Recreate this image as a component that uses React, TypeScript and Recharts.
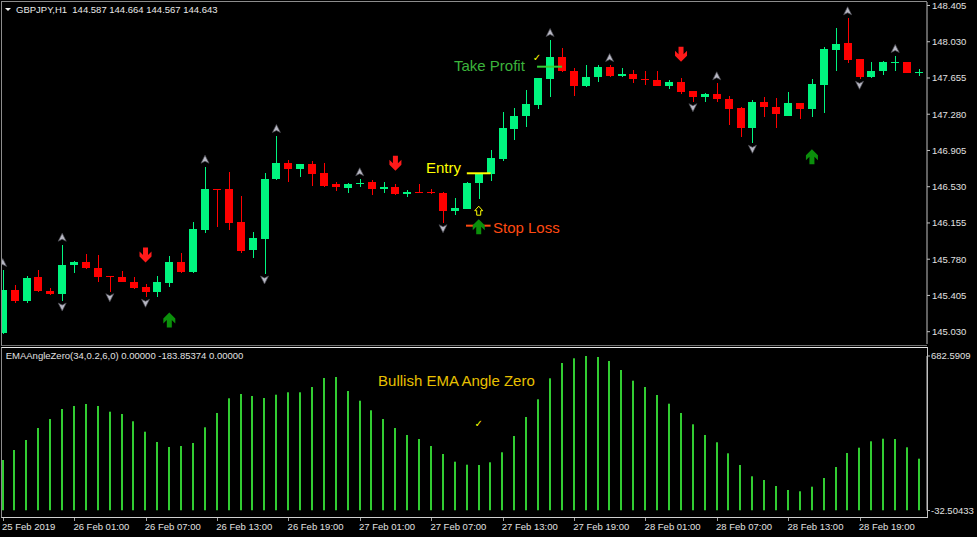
import React from 'react';
import { ComposedChart, Bar, Scatter, XAxis, YAxis, ReferenceLine } from 'recharts';

// ---------- data ----------
const OPEN = [
  145.020, 145.461, 145.351, 145.593, 145.454, 145.420, 145.720, 145.751, 145.692, 145.606,
  145.593, 145.547, 145.492, 145.441, 145.537, 145.751, 145.645, 146.082, 146.503, 146.503,
  146.168, 145.875, 145.989, 146.607, 146.778, 146.710, 146.765, 146.669, 146.558, 146.520,
  146.558, 146.579, 146.509, 146.527, 146.452, 146.475, 146.472, 146.468, 146.282, 146.303,
  146.565, 146.658, 146.820, 147.127, 147.265, 147.379, 147.648, 147.875, 147.730, 147.572,
  147.668, 147.766, 147.672, 147.696, 147.641, 147.634, 147.572, 147.617, 147.520, 147.458,
  147.489, 147.434, 147.348, 147.141, 147.410, 147.355, 147.265, 147.393, 147.334, 147.586,
  147.948, 148.020, 147.848, 147.668, 147.727, 147.807, 147.820, 147.710,
];
const HIGH = [
  145.668, 145.513, 145.606, 145.668, 145.479, 145.930, 145.760, 145.834, 145.820, 145.608,
  145.661, 145.599, 145.523, 145.606, 145.813, 145.841, 146.168, 146.737, 146.506, 146.685,
  146.437, 146.061, 146.669, 147.055, 146.806, 146.768, 146.799, 146.772, 146.582, 146.572,
  146.607, 146.599, 146.579, 146.558, 146.496, 146.558, 146.503, 146.478, 146.413, 146.582,
  146.669, 146.910, 147.306, 147.341, 147.531, 147.660, 148.048, 147.962, 147.755, 147.786,
  147.786, 147.789, 147.755, 147.738, 147.730, 147.730, 147.634, 147.658, 147.522, 147.503,
  147.600, 147.469, 147.358, 147.427, 147.461, 147.445, 147.510, 147.396, 147.641, 147.973,
  148.175, 148.273, 147.850, 147.820, 147.831, 147.883, 147.824, 147.745,
];
const LOW = [
  145.006, 145.330, 145.330, 145.440, 145.410, 145.347, 145.634, 145.675, 145.541, 145.444,
  145.541, 145.475, 145.386, 145.392, 145.495, 145.634, 145.635, 146.054, 146.110, 146.082,
  145.847, 145.789, 145.627, 146.599, 146.582, 146.627, 146.537, 146.524, 146.489, 146.468,
  146.524, 146.447, 146.468, 146.447, 146.420, 146.463, 146.455, 146.158, 146.237, 146.296,
  146.406, 146.589, 146.799, 147.013, 147.145, 147.337, 147.455, 147.720, 147.472, 147.565,
  147.610, 147.668, 147.668, 147.606, 147.582, 147.575, 147.538, 147.489, 147.410, 147.410,
  147.403, 147.169, 147.041, 146.979, 147.254, 147.134, 147.265, 147.228, 147.248, 147.296,
  147.730, 147.813, 147.641, 147.652, 147.683, 147.727, 147.703, 147.676,
];
const CLOSE = [
  145.461, 145.351, 145.589, 145.448, 145.420, 145.720, 145.754, 145.689, 145.599, 145.593,
  145.547, 145.485, 145.441, 145.544, 145.751, 145.651, 146.092, 146.506, 146.496, 146.158,
  145.865, 145.996, 146.610, 146.778, 146.710, 146.765, 146.662, 146.541, 146.524, 146.561,
  146.565, 146.509, 146.530, 146.452, 146.478, 146.465, 146.462, 146.282, 146.310, 146.568,
  146.669, 146.824, 147.141, 147.262, 147.386, 147.655, 147.869, 147.727, 147.575, 147.668,
  147.766, 147.676, 147.699, 147.641, 147.634, 147.575, 147.617, 147.513, 147.461, 147.489,
  147.434, 147.337, 147.141, 147.410, 147.358, 147.279, 147.396, 147.331, 147.593, 147.955,
  148.007, 147.841, 147.668, 147.730, 147.820, 147.824, 147.710, 147.717,
];
const EMA_ANGLE = [
  201.2, 247.5, 293.8, 349.4, 391.0, 437.3, 451.2, 460.4, 451.2, 424.8,
  414.2, 380.4, 332.2, 284.6, 261.4, 266.0, 279.9, 352.6, 418.8, 486.8,
  506.7, 497.5, 488.2, 503.5, 514.6, 514.6, 539.1, 580.8, 585.4, 520.6,
  475.7, 431.3, 391.0, 349.4, 317.0, 298.4, 266.0, 229.0, 193.4, 179.5,
  178.1, 190.6, 236.9, 312.3, 400.3, 482.2, 579.4, 650.2, 672.0, 682.6,
  678.0, 659.5, 617.8, 568.3, 539.1, 502.1, 461.8, 418.8, 366.5, 317.0,
  283.2, 232.2, 178.1, 125.8, 108.7, 80.9, 62.4, 56.4, 77.7, 117.9,
  168.8, 233.6, 258.2, 287.8, 299.8, 298.4, 260.0, 207.3,
];
const TIME_LABELS = [
  '25 Feb 2019', '26 Feb 01:00', '26 Feb 07:00', '26 Feb 13:00', '26 Feb 19:00',
  '27 Feb 01:00', '27 Feb 07:00', '27 Feb 13:00', '27 Feb 19:00', '28 Feb 01:00',
  '28 Feb 07:00', '28 Feb 13:00', '28 Feb 19:00',
];
const TIME_LABEL_BARS = [0, 6, 12, 18, 24, 30, 36, 42, 48, 54, 60, 66, 72];
const PRICE_TICKS = [145.03, 145.405, 145.78, 146.155, 146.53, 146.905, 147.28, 147.655, 148.03, 148.405];
const IND_TICKS = [-32.50433, 682.5909];
const FRACTAL_UP_BARS = [0, 5, 17, 23, 30, 46, 51, 60, 71, 75];
const FRACTAL_DOWN_BARS = [5, 9, 12, 22, 37, 58, 63, 72];
const SELL_BARS = [12, 33, 57];
const SELL_PRICES = [145.823, 146.772, 147.900];
const BUY_BARS = [14, 40, 68];
const BUY_PRICES = [145.151, 146.116, 146.841];
const NOTE_TEXTS = ['Take Profit', 'Entry', 'Stop Loss'];
const NOTE_BARS = [37.92, 35.57, 41.2];
const NOTE_PRICES = [147.789, 146.734, 146.113];
const LEVEL_FROM = [44.9, 39.0, 38.93];
const LEVEL_TO = [47.0, 41.0, 41.0];
const LEVEL_PRICES = [147.772, 146.669, 146.127];
const ENTRY_HINT = [{ i: 40, v: 146.282 }];
const CHECK_MAIN = [{ i: 44.9, v: 147.872 }];
const CHECK_IND = [{ i: 40, v: 367.9 }];
const IND_NOTE = [{ i: 31.54, v: 566.9, text: 'Bullish EMA Angle Zero' }];

// ---------- styles ----------
const FONT = '"Liberation Sans", Arial, sans-serif';
const BULL = '#00f57f';
const BEAR = '#ff0000';
const BODY_W = 8;
const HIST_W = 2;
const NOTE_COLORS = ['#3cb43c', '#ffff00', '#ff4a12'];
const LEVEL_COLORS = ['#33cc33', '#ffff00', '#ff4a12'];
const X_DOMAIN: [number, number] = [-0.06, 77.67];
const PRICE_DOMAIN: [number, number] = [144.9027, 148.4412];
const IND_DOMAIN: [number, number] = [-32.50433, 682.5909];

const candles = OPEN.map((o, i) => ({ i, o, h: HIGH[i], l: LOW[i], c: CLOSE[i] }));
const indData = EMA_ANGLE.map((v, i) => ({ i, v }));
const fracUp = FRACTAL_UP_BARS.map((i) => ({ i, v: HIGH[i] }));
const fracDown = FRACTAL_DOWN_BARS.map((i) => ({ i, v: LOW[i] }));
const sells = SELL_BARS.map((i, k) => ({ i, v: SELL_PRICES[k] }));
const buys = BUY_BARS.map((i, k) => ({ i, v: BUY_PRICES[k] }));
const notes = NOTE_TEXTS.map((text, k) => ({ i: NOTE_BARS[k], v: NOTE_PRICES[k], text, color: NOTE_COLORS[k] }));

const CandleShape = (props: any) => {
  const { x, y, width, height, payload } = props;
  if (!payload || x == null || y == null) return null;
  const { o, h, l, c } = payload;
  const top0 = Math.min(y, y + height);
  const H = Math.abs(height);
  const span = h - l || 1;
  const py = (v: number) => top0 + ((h - v) / span) * H;
  const color = c >= o ? BULL : BEAR;
  const center = x + (width || 0) / 2;
  const bx = Math.round(center - BODY_W / 2);
  const wx = bx + BODY_W / 2 + 0.5;
  const t = Math.round(py(Math.max(o, c)));
  const b = Math.round(py(Math.min(o, c)));
  return (
    <g>
      <line x1={wx} x2={wx} y1={Math.round(top0)} y2={Math.round(top0 + H)} stroke={color} strokeWidth={1} />
      <rect x={bx} y={t} width={BODY_W} height={Math.max(1, b - t)} fill={color} />
    </g>
  );
};

const HistShape = (props: any) => {
  const { x, y, width, height } = props;
  if (x == null || y == null) return null;
  const center = x + (width || 0) / 2;
  const top0 = Math.min(y, y + height);
  return <rect x={Math.round(center - HIST_W / 2)} y={top0} width={HIST_W} height={Math.abs(height)} fill="#32cd32" />;
};

const FracUpShape = (p: any) => {
  const cx = p.cx, cy = p.cy - 7;
  return <path d={`M${cx},${cy - 4.5} L${cx + 4},${cy + 3.5} L${cx},${cy + 1.5} L${cx - 4},${cy + 3.5} Z`} fill="#b8b8c4" stroke="#4a4a52" strokeWidth={0.7} />;
};
const FracDownShape = (p: any) => {
  const cx = p.cx, cy = p.cy + 5.5;
  return <path d={`M${cx},${cy + 4.5} L${cx + 4},${cy - 3.5} L${cx},${cy - 1.5} L${cx - 4},${cy - 3.5} Z`} fill="#b8b8c4" stroke="#4a4a52" strokeWidth={0.7} />;
};
const SellShape = (p: any) => {
  const { cx, cy } = p;
  const pts = [
    [cx - 2.5, cy - 7.5], [cx + 2.5, cy - 7.5], [cx + 2.5, cy], [cx + 6, cy - 3.5], [cx + 6, cy + 1.5],
    [cx, cy + 7.5], [cx - 6, cy + 1.5], [cx - 6, cy - 3.5], [cx - 2.5, cy],
  ].map((q) => q.join(',')).join(' ');
  return <polygon points={pts} fill="#ff1a1a" />;
};
const BuyShape = (p: any) => {
  const { cx, cy } = p;
  const pts = [
    [cx - 2.5, cy + 7.5], [cx + 2.5, cy + 7.5], [cx + 2.5, cy], [cx + 6, cy + 3.5], [cx + 6, cy - 1.5],
    [cx, cy - 7.5], [cx - 6, cy - 1.5], [cx - 6, cy + 3.5], [cx - 2.5, cy],
  ].map((q) => q.join(',')).join(' ');
  return <polygon points={pts} fill="#0b8f0b" />;
};
const HintShape = (p: any) => {
  const { cx, cy } = p;
  const pts = [
    [cx, cy - 4.5], [cx + 4, cy], [cx + 2, cy], [cx + 2, cy + 4.5], [cx - 2, cy + 4.5], [cx - 2, cy], [cx - 4, cy],
  ].map((q) => q.join(',')).join(' ');
  return <polygon points={pts} fill="none" stroke="#ffff00" strokeWidth={1} />;
};
const NoteShape = (p: any) => (
  <text x={p.cx} y={p.cy} fill={p.payload.color} fontSize={15} fontFamily={FONT} dominantBaseline="central">
    {p.payload.text}
  </text>
);
const IndNoteShape = (p: any) => (
  <text x={p.cx} y={p.cy} fill="#e8c000" fontSize={15} fontFamily={FONT} dominantBaseline="central">
    {p.payload.text}
  </text>
);
const CheckShape = (p: any) => (
  <text x={p.cx} y={p.cy} fill="#ffff00" fontSize={10} fontFamily="DejaVu Sans" textAnchor="middle" dominantBaseline="central">
    ✓
  </text>
);

const TimeTick = (p: any) => {
  const { x, y, payload } = p;
  const k = TIME_LABEL_BARS.indexOf(payload.value);
  return (
    <g>
      <line x1={Math.round(x) + 0.5} x2={Math.round(x) + 0.5} y1={y + 7.5} y2={y + 10.5} stroke="#a0a0a0" />
      <text x={x - 0.7} y={y + 19} fill="#e0e0e0" fontSize={9.5} fontFamily={FONT} textAnchor="start">
        {k >= 0 ? TIME_LABELS[k] : ''}
      </text>
    </g>
  );
};

export default function App() {
  return (
    <div style={{ position: 'absolute', left: 0, top: 0, width: 977, height: 537, background: '#000', overflow: 'hidden' }}>
      {/* panel frames */}
      <div style={{ position: 'absolute', left: 1, top: 1, width: 925, height: 343, borderTop: '1px solid #8c8c8c', borderLeft: '1px solid #8c8c8c', borderBottom: '1px solid #707070' }} />
      <div style={{ position: 'absolute', left: 1, top: 347, width: 925, height: 169, borderTop: '1px solid #e8e8e8', borderBottom: '1px solid #d0d0d0', borderLeft: '1px solid #8c8c8c', borderRight: '1px solid #c0c0c0' }} />

      <div style={{ position: 'absolute', left: 0, top: 0 }}>
        <ComposedChart width={977} height={344} data={candles} margin={{ top: 2, right: 0, left: 2, bottom: 0 }}>
          <XAxis dataKey="i" type="number" domain={X_DOMAIN} allowDataOverflow hide />
          <YAxis
            orientation="right"
            type="number"
            domain={PRICE_DOMAIN}
            allowDataOverflow
            ticks={PRICE_TICKS}
            interval={0}
            width={50}
            tickSize={3}
            tickMargin={2}
            axisLine={{ stroke: '#c0c0c0' }}
            tickLine={{ stroke: '#c0c0c0' }}
            tick={{ fill: '#e0e0e0', fontSize: 9.5, fontFamily: FONT }}
            tickFormatter={(v: number) => v.toFixed(3)}
          />
          <Bar dataKey={(d: any) => [d.l, d.h]} shape={(p: any) => <CandleShape {...p} />} isAnimationActive={false} />
          <Scatter data={fracUp} dataKey="v" shape={FracUpShape} isAnimationActive={false} />
          <Scatter data={fracDown} dataKey="v" shape={FracDownShape} isAnimationActive={false} />
          <Scatter data={sells} dataKey="v" shape={SellShape} isAnimationActive={false} />
          <Scatter data={buys} dataKey="v" shape={BuyShape} isAnimationActive={false} />
          <Scatter data={ENTRY_HINT} dataKey="v" shape={HintShape} isAnimationActive={false} />
          <Scatter data={CHECK_MAIN} dataKey="v" shape={CheckShape} isAnimationActive={false} />
          <Scatter data={notes} dataKey="v" shape={NoteShape} isAnimationActive={false} />
          {LEVEL_PRICES.map((p, k) => (
            <ReferenceLine
              key={k}
              segment={[{ x: LEVEL_FROM[k], y: p }, { x: LEVEL_TO[k], y: p }]}
              stroke={LEVEL_COLORS[k]}
              strokeWidth={2}
            />
          ))}
        </ComposedChart>
      </div>

      <div style={{ position: 'absolute', left: 0, top: 340 }}>
        <ComposedChart width={977} height={197} data={indData} margin={{ top: 16, right: 0, left: 2, bottom: 0 }}>
          <XAxis
            dataKey="i"
            type="number"
            domain={X_DOMAIN}
            allowDataOverflow
            ticks={TIME_LABEL_BARS}
            interval={0}
            height={26.5}
            axisLine={false}
            tickLine={false}
            tickSize={0}
            tickMargin={0}
            tick={(p: any) => <TimeTick {...p} />}
          />
          <YAxis
            orientation="right"
            type="number"
            domain={IND_DOMAIN}
            allowDataOverflow
            ticks={IND_TICKS}
            interval={0}
            width={50}
            tickSize={3}
            tickMargin={1}
            axisLine={{ stroke: '#c0c0c0' }}
            tickLine={{ stroke: '#c0c0c0' }}
            tick={{ fill: '#e0e0e0', fontSize: 9.5, fontFamily: FONT }}
            tickFormatter={(v: number) => String(v)}
          />
          <Bar dataKey={(d: any) => [IND_DOMAIN[0], d.v]} shape={(p: any) => <HistShape {...p} />} isAnimationActive={false} />
          <Scatter data={CHECK_IND} dataKey="v" shape={CheckShape} isAnimationActive={false} />
          <Scatter data={IND_NOTE} dataKey="v" shape={IndNoteShape} isAnimationActive={false} />
        </ComposedChart>
      </div>

      <svg width={977} height={537} style={{ position: 'absolute', left: 0, top: 0, pointerEvents: 'none' }}>
        <polygon points="5,8 11,8 8,11" fill="#f0f0f0" />
        <text x={16} y={12.7} fill="#e8e8e8" fontSize={9.5} fontFamily={FONT} style={{ whiteSpace: 'pre' }}>
          {'GBPJPY,H1  144.587 144.664 144.567 144.643'}
        </text>
        <text x={5.7} y={359.3} fill="#e0e0e0" fontSize={9.5} fontFamily={FONT} style={{ whiteSpace: 'pre' }}>
          {'EMAAngleZero(34,0.2,6,0) 0.00000 -183.85374 0.00000'}
        </text>
      </svg>
    </div>
  );
}
